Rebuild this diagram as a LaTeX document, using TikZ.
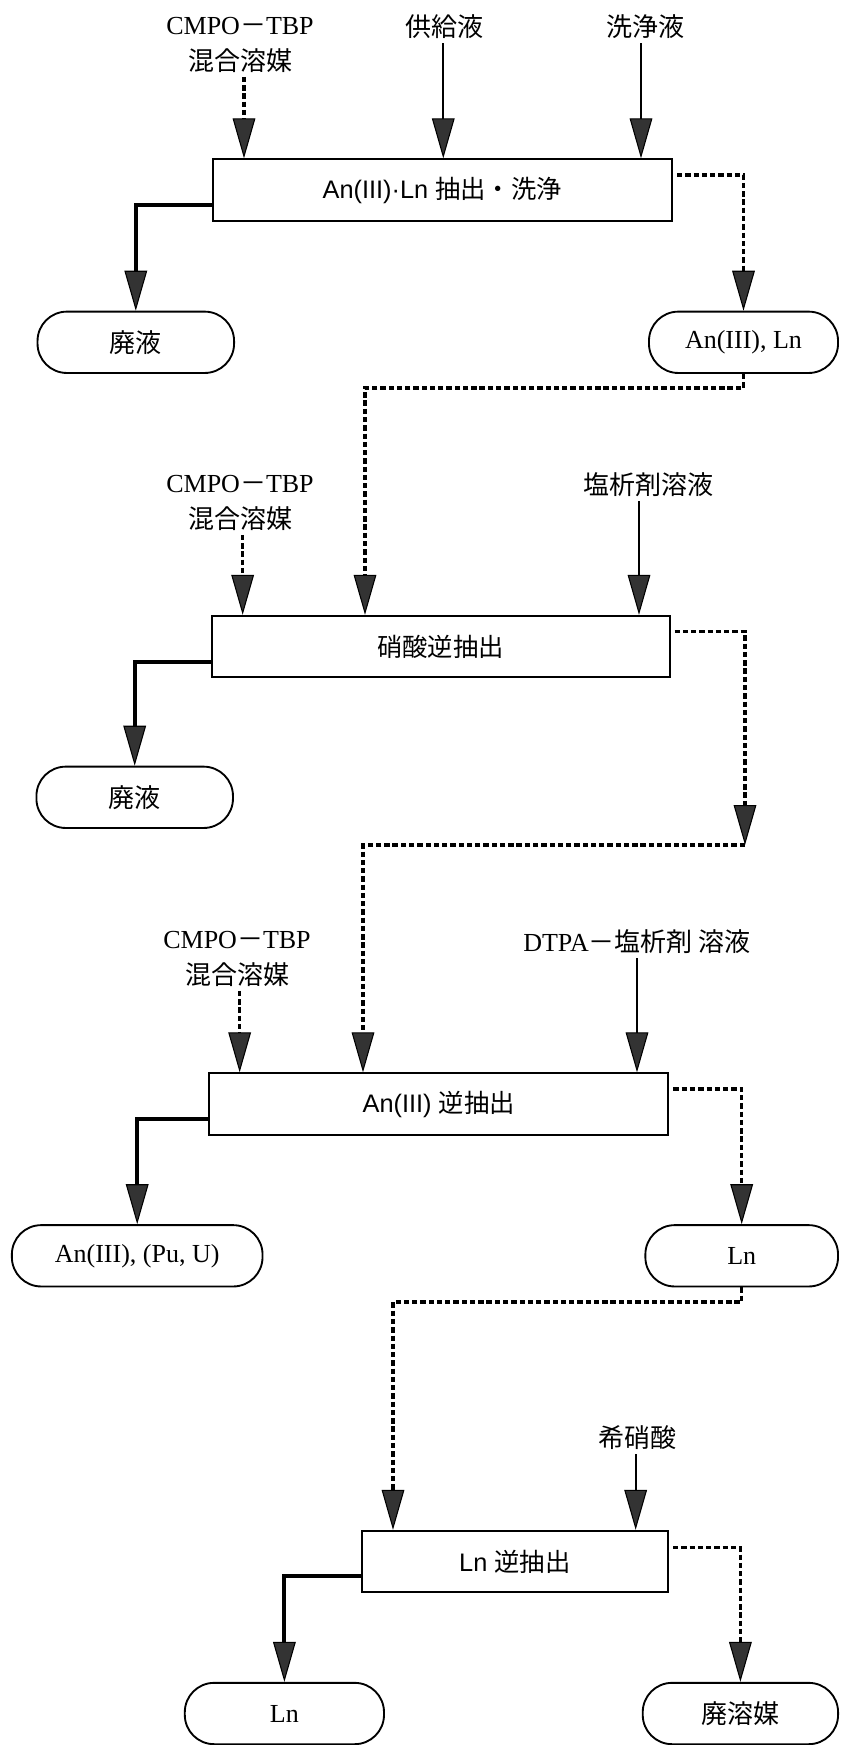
\documentclass[tikz,border=0pt]{standalone}
\usepackage{fontspec}
\setmainfont{Liberation Serif}
\newfontfamily\cjk{Noto Sans CJK JP}
\newfontfamily\sansf{Liberation Sans}
\usetikzlibrary{arrows.meta}
\newcommand\cjt[1]{{\cjk #1}}
\begin{document}
\begin{tikzpicture}[x=0.75pt,y=-0.75pt,
  proc/.style={draw,line width=1.5pt,minimum height=46pt,inner sep=0pt,font=\sansf\fontsize{19}{23}\selectfont},
  prod/.style={draw,line width=1.4pt,rounded corners=22pt,minimum height=46pt,inner sep=0pt,font=\fontsize{19.5}{23}\selectfont},
  lbl/.style={align=center,inner sep=3pt,font=\fontsize{19.5}{27}\selectfont},
  tipx/.style={-{Triangle[length=30pt,width=17pt,line width=0.8pt,fill=black!80]}},
  feed/.style={tipx,line width=1.5pt},
  outp/.style={tipx,line width=3pt},
  dsh/.style={tipx,line width=2.6pt,dash pattern=on 4pt off 2.2pt}]
\useasboundingbox (0,0) rectangle (840,1745);

% process boxes
\node[proc,minimum width=344.6pt] (b1) at (442.3,190) {An(III)·Ln \cjt{抽出・洗浄}};
\node[proc,minimum width=343.5pt] (b2) at (440.5,646.5) {\cjt{硝酸逆抽出}};
\node[proc,minimum width=344.6pt] (b3) at (438.7,1104) {An(III) \cjt{逆抽出}};
\node[proc,minimum width=229.9pt] (b4) at (514.8,1561.5) {Ln \cjt{逆抽出}};

% product ovals
\node[prod,minimum width=147.4pt] (o1) at (135.8,342.3) {\cjt{廃液}};
\node[prod,minimum width=141.8pt] (o2) at (743.5,342.3) {An(III), Ln};
\node[prod,minimum width=147.4pt] (o3) at (134.7,797.3) {\cjt{廃液}};
\node[prod,minimum width=188pt] (o4) at (137.2,1255.8) {An(III), (Pu, U)};
\node[prod,minimum width=144.5pt] (o5) at (741.7,1255.8) {Ln};
\node[prod,minimum width=149.4pt] (o6) at (284.4,1713.5) {Ln};
\node[prod,minimum width=146.5pt] (o7) at (740.4,1713.5) {\cjt{廃溶媒}};

% feed labels
\node[lbl] (l1) at (240,45) {CMPO\cjt{－}TBP\\\cjt{混合溶媒}};
\node[lbl] (l2) at (444.6,27) {\cjt{供給液}};
\node[lbl] (l3) at (645,27) {\cjt{洗浄液}};
\node[lbl] (l4) at (240,503) {CMPO\cjt{－}TBP\\\cjt{混合溶媒}};
\node[lbl] (l5) at (648,485) {\cjt{塩析剤溶液}};
\node[lbl] (l6) at (237,959) {CMPO\cjt{－}TBP\\\cjt{混合溶媒}};
\node[lbl] (l7) at (637,942) {DTPA\cjt{－塩析剤 溶液}};
\node[lbl] (l8) at (637,1438) {\cjt{希硝酸}};

% routing coordinates
\coordinate (k1) at (365,388);
\coordinate (c2) at (745,845);
\coordinate (k2) at (363,845);
\coordinate (k3) at (393,1302);

% stage 1
\path ([xshift=3pt]l1.south) coordinate (a1);
\draw[dsh] (a1) -- (a1 |- b1.north);
\draw[feed] ([xshift=-1pt]l2.south) -- ([xshift=-1pt]l2.south |- b1.north);
\draw[feed] ([xshift=-3pt]l3.south) -- ([xshift=-3pt]l3.south |- b1.north);
\draw[outp] ([yshift=-11.25pt]b1.west) -| (o1.north);
\draw[dsh] ([xshift=3pt,yshift=11.25pt]b1.east) -| (o2.north);
\draw[dsh] (o2.south) |- (k1) -- (k1 |- b2.north);

% stage 2
\path ([xshift=2pt]l4.south) coordinate (a4);
\draw[dsh] (a4) -- (a4 |- b2.north);
\draw[feed] ([xshift=-6.75pt]l5.south) -- ([xshift=-6.75pt]l5.south |- b2.north);
\draw[outp] ([yshift=-11.25pt]b2.west) -| (o3.north);
\draw[dsh] ([xshift=3pt,yshift=11.25pt]b2.east) -| (c2);
\draw[dsh] (c2) -- (k2) -- (k2 |- b3.north);

% stage 3
\path ([xshift=2pt]l6.south) coordinate (a6);
\draw[dsh] (a6) -- (a6 |- b3.north);
\draw[feed] (l7.south) -- (l7.south |- b3.north);
\draw[outp] ([yshift=-11.25pt]b3.west) -| (o4.north);
\draw[dsh] ([xshift=3pt,yshift=11.25pt]b3.east) -| (o5.north);
\draw[dsh] (o5.south) |- (k3) -- (k3 |- b4.north);

% stage 4
\draw[feed] ([xshift=-1pt]l8.south) -- ([xshift=-1pt]l8.south |- b4.north);
\draw[outp] ([yshift=-10.5pt]b4.west) -| (o6.north);
\draw[dsh] ([xshift=3pt,yshift=10.5pt]b4.east) -| (o7.north);
\end{tikzpicture}
\end{document}
